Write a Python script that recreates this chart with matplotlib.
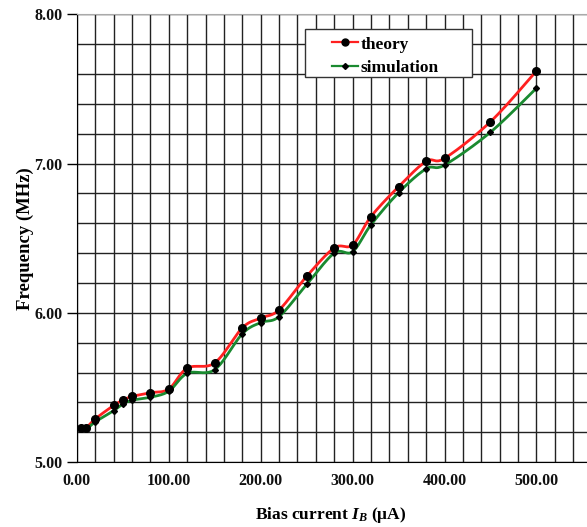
import matplotlib
matplotlib.use('Agg')
import matplotlib.pyplot as plt
import numpy as np
from matplotlib.ticker import MultipleLocator, FormatStrFormatter
from matplotlib.patches import Rectangle

# --- data ---
bias = [5, 10, 20, 40, 50, 60, 80, 100, 120, 150, 180, 200, 220, 250,
        280, 300, 320, 350, 380, 400, 450, 500]
theory = [5.23, 5.23, 5.29, 5.38, 5.415, 5.44, 5.465, 5.49, 5.63, 5.665,
          5.90, 5.965, 6.02, 6.245, 6.435, 6.455, 6.645, 6.845, 7.015, 7.035,
          7.28, 7.62]
simulation = [5.22, 5.22, 5.27, 5.345, 5.39, 5.415, 5.435, 5.475, 5.595, 5.62,
              5.86, 5.935, 5.975, 6.19, 6.40, 6.41, 6.59, 6.805, 6.965, 6.99,
              7.21, 7.505]

plt.rcParams['font.family'] = 'Liberation Serif'
plt.rcParams['font.weight'] = 'bold'
plt.rcParams['mathtext.fontset'] = 'custom'
plt.rcParams['mathtext.it'] = 'Liberation Serif:italic:bold'
plt.rcParams['mathtext.rm'] = 'Liberation Serif:bold'


def smooth(x, y, n=20):
    # Catmull-Rom curve through the points (like Excel "smoothed line")
    x = np.asarray(x, float)
    y = np.asarray(y, float)
    px = np.concatenate([[x[0]], x, [x[-1]]])
    py = np.concatenate([[y[0]], y, [y[-1]]])
    xs, ys = [], []
    t = np.linspace(0, 1, n)
    for i in range(1, len(px) - 2):
        p0, p1, p2, p3 = (np.array([px[j], py[j]]) for j in (i - 1, i, i + 1, i + 2))
        c1 = p1 + (p2 - p0) / 6
        c2 = p2 - (p3 - p1) / 6
        pts = (np.outer((1 - t) ** 3, p1) + np.outer(3 * (1 - t) ** 2 * t, c1)
               + np.outer(3 * (1 - t) * t ** 2, c2) + np.outer(t ** 3, p2))
        xs.append(pts[:, 0])
        ys.append(pts[:, 1])
    return np.concatenate(xs), np.concatenate(ys)


fig = plt.figure(figsize=(5.87, 5.27), dpi=100)
ax = fig.add_axes([0.131, 0.123, 0.869, 0.850])

ax.set_xlim(0, 555)
ax.set_ylim(5.0, 8.0)
ax.xaxis.set_major_locator(MultipleLocator(100))
ax.xaxis.set_minor_locator(MultipleLocator(20))
ax.yaxis.set_major_locator(MultipleLocator(1))
ax.yaxis.set_minor_locator(MultipleLocator(0.2))
ax.xaxis.set_major_formatter(FormatStrFormatter('%.2f'))
ax.yaxis.set_major_formatter(FormatStrFormatter('%.2f'))
ax.grid(which='both', color='#222222', linewidth=1.0)
ax.set_axisbelow(True)

ax.tick_params(which='major', direction='out', length=7, width=1, labelsize=11.5,
               labelcolor='#111111')
ax.tick_params(axis='x', which='major', length=0, pad=8)
ax.tick_params(which='minor', length=0)

ax.spines['top'].set_color('#aaaaaa')
ax.spines['right'].set_visible(False)
ax.spines['left'].set_color('black')
ax.spines['bottom'].set_color('black')

sx, sy = smooth(bias, theory)
ax.plot(sx, sy, color='#ff2020', lw=2.0, zorder=3)
gx, gy = smooth(bias, simulation)
ax.plot(gx, gy, color='#1a8a30', lw=2.0, zorder=3)
ax.plot(bias, theory, 'o', color='black', ms=5.5, zorder=4)
ax.plot(bias, simulation, 'D', color='black', ms=3.0, zorder=4)

# legend box drawn by hand to get the wide Excel-style frame
fig.patches.append(Rectangle((0.5196, 0.854), 0.2845, 0.091, transform=fig.transFigure,
                             facecolor='white', edgecolor='#333333', lw=1.0, zorder=5))
h1, = ax.plot([], [], color='#ff2020', lw=1.6, marker='o', mfc='black', mec='black', ms=5)
h2, = ax.plot([], [], color='#1a8a30', lw=1.6, marker='D', mfc='black', mec='black', ms=3)
leg = fig.legend([h1, h2], ['theory', 'simulation'], loc='upper left',
                 bbox_to_anchor=(0.566, 0.931), frameon=False, fontsize=12.5,
                 handlelength=1.5, handletextpad=0.15, borderpad=0.0,
                 borderaxespad=0.0, labelspacing=0.45)
leg.set_zorder(6)

ax.set_xlabel('Bias current $I_B$ (\u03bcA)', fontsize=12.5, fontweight='bold')
ax.set_ylabel('Frequency (MHz)', fontsize=13.5, fontweight='bold')
ax.xaxis.set_label_coords(0.498, -0.118)
ax.yaxis.set_label_coords(-0.102, 0.5)
ax.xaxis.label.set_va('center')
ax.yaxis.label.set_va('center')

fig.savefig('out.png', dpi=100)
